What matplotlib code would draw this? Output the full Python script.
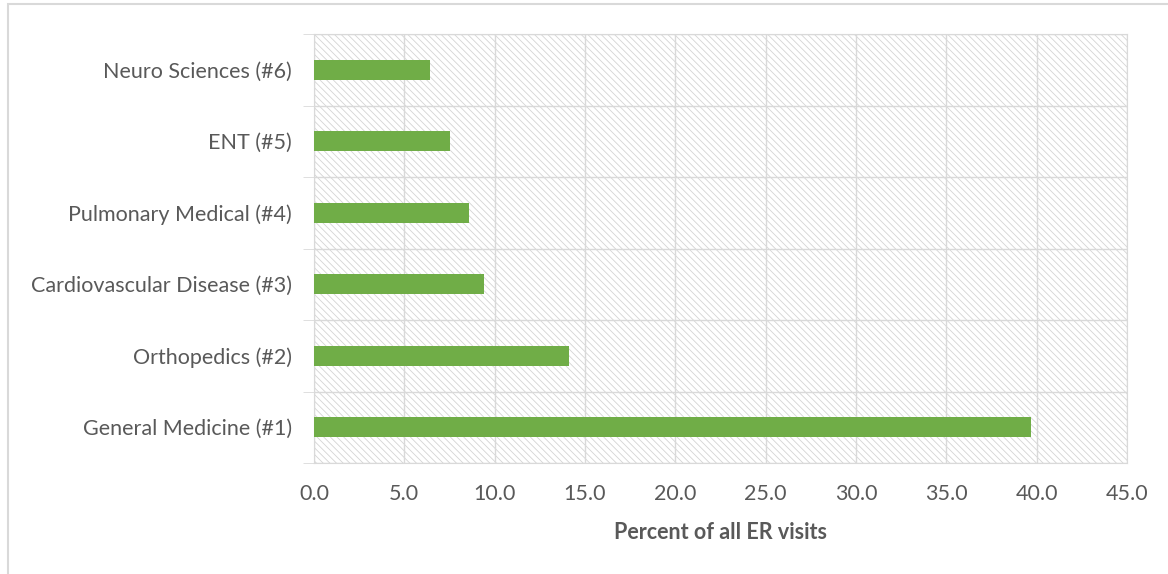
import matplotlib.pyplot as plt
from matplotlib.patches import Rectangle

categories = ['General Medicine (#1)', 'Orthopedics (#2)', 'Cardiovascular Disease (#3)',
              'Pulmonary Medical (#4)', 'ENT (#5)', 'Neuro Sciences (#6)']
values = [39.7, 14.1, 9.4, 8.6, 7.5, 6.4]
xticks = [0, 5, 10, 15, 20, 25, 30, 35, 40, 45]

plt.rcParams['font.family'] = ['Lato', 'DejaVu Sans']
plt.rcParams['hatch.linewidth'] = 0.6
plt.rcParams['hatch.color'] = '#d4d4d4'

fig = plt.figure(figsize=(11.68, 5.74), dpi=100)
ax = fig.add_axes([314 / 1168, 1 - 463 / 574, 813 / 1168, 429 / 574])

# hatched background
ax.add_patch(Rectangle((0, 0), 1, 1, transform=ax.transAxes, facecolor='white',
                       edgecolor='#d4d4d4', hatch='\\\\\\\\\\', linewidth=0, zorder=0))

pos = list(range(len(categories)))
ax.barh(pos, values, height=0.28, color='#70ad47', zorder=3)

ax.set_xlim(0, 45)
ax.set_ylim(-0.5, len(categories) - 0.5)
ax.set_xticks(xticks)
ax.set_xticklabels(['%.1f' % t for t in xticks], fontsize=15.5, color='#595959')
ax.set_yticks(pos)
ax.set_yticklabels(categories, fontsize=15.5, color='#595959')
ax.set_yticks([p - 0.5 for p in range(len(categories) + 1)], minor=True)

ax.grid(True, axis='x', color='#d9d9d9', linewidth=1, zorder=1)
ax.grid(True, axis='y', which='minor', color='#d9d9d9', linewidth=1, zorder=1)
ax.set_axisbelow(True)
ax.tick_params(axis='y', which='major', length=0, pad=16)
ax.tick_params(axis='y', which='minor', length=8, color='#d9d9d9')
ax.tick_params(axis='x', length=0, pad=15)
for s in ax.spines.values():
    s.set_color('#d9d9d9')

ax.set_xlabel('Percent of all ER visits', fontsize=15.5, fontweight='bold', color='#595959', labelpad=13)

# chart area border
fig.patches.append(Rectangle((8 / 1168, -0.01), 1.02, 0.01 + 1 - 4 / 574, transform=fig.transFigure,
                             facecolor='none', edgecolor='#d9d9d9', linewidth=1.5))

fig.savefig('out.png', dpi=100)
